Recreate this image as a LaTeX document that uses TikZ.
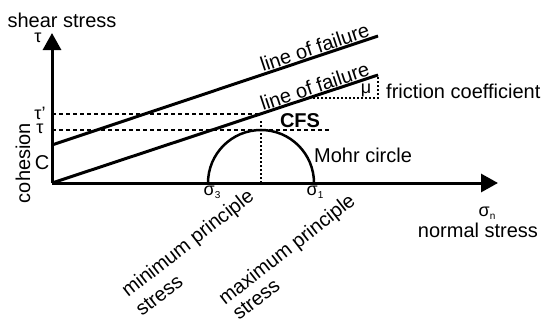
\documentclass[tikz,border=0pt]{standalone}
\usepackage{fontspec}
\setmainfont{Liberation Sans}
\usetikzlibrary{arrows.meta}
\begin{document}
\begin{tikzpicture}[x=1pt,y=-1pt,
  lbl/.style={inner sep=0pt,font=\fontsize{20}{22}\selectfont},
  sml/.style={inner sep=0pt,font=\fontsize{18}{20}\selectfont},
  axis/.style={line width=3pt,-{Triangle[length=17pt,width=18pt]}},
  fail/.style={line width=3pt},
  dsh/.style={line width=1.1pt,dash pattern=on 4pt off 3pt},
  dtd/.style={line width=1.1pt,dash pattern=on 2pt off 2pt}]
\useasboundingbox (0,0) rectangle (541,324);
% axes
\coordinate (O) at (52,183);
\coordinate (Yt) at (52,33);
\coordinate (Xt) at (498,183);
\draw[axis] (O) -- (Yt);
\draw[axis] (O) -- (Xt);
% lines of failure
\coordinate (U0) at (52,145);
\coordinate (U1) at (378,36);
\coordinate (L1) at (378,75);
\draw[fail] (U0) -- (U1);
\draw[fail] (O) -- (L1);
\node[lbl,rotate=18.5,anchor=base] (lf1) at (317,54) {line of failure};
\node[lbl,rotate=18.5,anchor=base] (lf2) at (317,93) {line of failure};
% Mohr circle
\coordinate (S3) at (208,183);
\coordinate (S1) at (314,183);
\coordinate (Mc) at (261,183);
\draw[line width=2.5pt] (S1) arc[start angle=0,end angle=-180,radius=53];
\coordinate (Mt) at (261,121);
\draw[dtd] (Mc) -- (Mt);
% dashed levels
\coordinate (Tp0) at (52,114);
\coordinate (Tp1) at (260,114);
\coordinate (T0) at (52,130);
\coordinate (T1) at (330,130);
\draw[dsh] (Tp0) -- (Tp1);
\draw[dsh] (T0) -- (T1);
% friction triangle
\coordinate (F0) at (309,98);
\coordinate (F1) at (378,98);
\draw[dtd] (F0) -- (F1) -- (L1);
\node[sml] (mu) at (366,90) {μ};
\node[lbl,anchor=west] (fc) at (386,91) {friction coefficient};
% labels
\node[lbl,font=\fontsize{20}{22}\selectfont\bfseries] (cfs) at (300,121) {CFS};
\node[lbl,anchor=west] (mohr) at (314,155) {Mohr circle};
\node[lbl] (shear) at (62,20) {shear stress};
\node[sml] (tau) at (38,38) {τ};
\node[sml] (taup) at (40,113) {τ’};
\node[sml] (taul) at (40,129) {τ};
\node[lbl] (coh) at (42,163) {C};
\node[lbl,rotate=90] (cohesion) at (23,163) {cohesion};
\node[sml] (s3) at (212,192) {σ\raisebox{-0.35ex}{\fontsize{10}{10}\selectfont 3}};
\node[sml] (s1) at (315,192) {σ\raisebox{-0.35ex}{\fontsize{10}{10}\selectfont 1}};
\node[sml] (sn) at (487,213) {σ\raisebox{-0.35ex}{\fontsize{10}{10}\selectfont n}};
\node[lbl] (ns) at (478,230) {normal stress};
\node[lbl,rotate=38,anchor=base west] (min1) at (128,298) {minimum principle};
\node[lbl,rotate=38,anchor=base west] (min2) at (142,317) {stress};
\node[lbl,rotate=38,anchor=base west] (max1) at (225,306) {maximum principle};
\node[lbl,rotate=38,anchor=base west] (max2) at (239,321) {stress};
\end{tikzpicture}
\end{document}
